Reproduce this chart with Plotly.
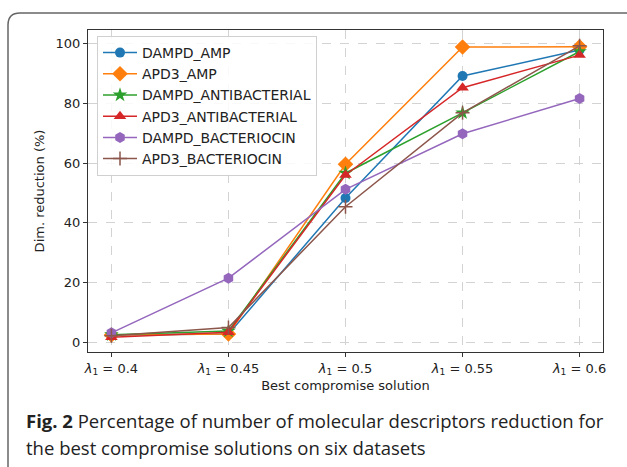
import plotly.graph_objects as go

categories = ["0.4", "0.45", "0.5", "0.55", "0.6"]
tick_labels = ["<i>λ</i><sub>1</sub> = 0.4", "<i>λ</i><sub>1</sub> = 0.45", "<i>λ</i><sub>1</sub> = 0.5",
               "<i>λ</i><sub>1</sub> = 0.55", "<i>λ</i><sub>1</sub> = 0.6"]

dampd_amp = [2.5, 2.8, 48.3, 89.1, 97.8]
apd3_amp = [2.5, 2.8, 59.6, 98.8, 98.9]
dampd_antibacterial = [2.6, 3.8, 56.6, 76.8, 97.3]
apd3_antibacterial = [1.7, 3.4, 56.0, 85.2, 96.1]
dampd_bacteriocin = [3.2, 21.5, 51.2, 69.8, 81.6]
apd3_bacteriocin = [2.2, 5.0, 45.4, 76.8, 99.2]

series = [
    ("DAMPD_AMP", dampd_amp, "#1f77b4", "circle", 10),
    ("APD3_AMP", apd3_amp, "#ff7f0e", "diamond", 12),
    ("DAMPD_ANTIBACTERIAL", dampd_antibacterial, "#2ca02c", "star", 11),
    ("APD3_ANTIBACTERIAL", apd3_antibacterial, "#d62728", "triangle-up", 11),
    ("DAMPD_BACTERIOCIN", dampd_bacteriocin, "#9467bd", "hexagon", 11),
    ("APD3_BACTERIOCIN", apd3_bacteriocin, "#8c564b", "cross-thin", 10),
]

caption_line1 = "<b>Fig. 2</b> Percentage of number of molecular descriptors reduction for"
caption_line2 = "the best compromise solutions on six datasets"

x_idx = list(range(len(categories)))

fig = go.Figure()
for name, vals, color, sym, size in series:
    marker = dict(symbol=sym, size=size, color=color)
    if sym == "cross-thin":
        marker["line"] = dict(color=color, width=1.5)
    else:
        marker["line"] = dict(width=0)
    fig.add_trace(go.Scatter(x=x_idx, y=vals, mode="lines+markers", name=name,
                             line=dict(color=color, width=1.5), marker=marker))

W, H = 627, 467
L, R, T, B = 88, 24, 30, 115
pw, ph = W - L - R, H - T - B

def px(x):
    return (x - L) / pw

def py(y):
    return (H - B - y) / ph

border = (f"M {px(8)},{py(480)} L {px(8)},{py(25)} Q {px(8)},{py(13)} {px(20)},{py(13)} "
          f"L {px(650)},{py(13)}")

fig.update_layout(
    width=W, height=H,
    margin=dict(l=L, r=R, t=T, b=B, autoexpand=False),
    paper_bgcolor="white", plot_bgcolor="white",
    font=dict(family="DejaVu Sans", size=13, color="#222"),
    showlegend=True,
    legend=dict(x=px(97), y=py(36), xanchor="left", yanchor="top",
                bgcolor="rgba(255,255,255,0.85)", bordercolor="#d0d0d0", borderwidth=1,
                font=dict(family="DejaVu Sans", size=14, color="#222"),
                tracegroupgap=0, itemwidth=34),
    xaxis=dict(range=[-0.2, 4.2], tickmode="array", tickvals=x_idx, ticktext=tick_labels,
               showgrid=True, gridcolor="#d3d3d3", griddash="dash", gridwidth=1,
               showline=True, linecolor="#333", linewidth=1, mirror=True,
               ticks="outside", ticklen=4, tickcolor="#333", zeroline=False,
               title=dict(text="Best compromise solution", standoff=4,
                          font=dict(family="DejaVu Sans", size=13))),
    yaxis=dict(range=[-3.2, 104.5], tickvals=[0, 20, 40, 60, 80, 100],
               showgrid=True, gridcolor="#d3d3d3", griddash="dash", gridwidth=1,
               showline=True, linecolor="#333", linewidth=1, mirror=True,
               ticks="outside", ticklen=4, tickcolor="#333", zeroline=False,
               title=dict(text="Dim. reduction (%)", standoff=8,
                          font=dict(family="DejaVu Sans", size=13))),
    shapes=[dict(type="path", xref="paper", yref="paper", path=border,
                 line=dict(color="#666", width=1.5), layer="below")],
    annotations=[
        dict(xref="paper", yref="paper", x=px(24), y=py(421), xanchor="left", yanchor="middle",
             align="left", showarrow=False, text=caption_line1,
             font=dict(family="Open Sans", size=18.5, color="#222")),
        dict(xref="paper", yref="paper", x=px(24), y=py(447), xanchor="left", yanchor="middle",
             align="left", showarrow=False, text=caption_line2,
             font=dict(family="Open Sans", size=18.5, color="#222")),
    ],
)

fig.write_html("out.html", config={"displayModeBar": False},
               post_script="document.body.style.margin='0';")
